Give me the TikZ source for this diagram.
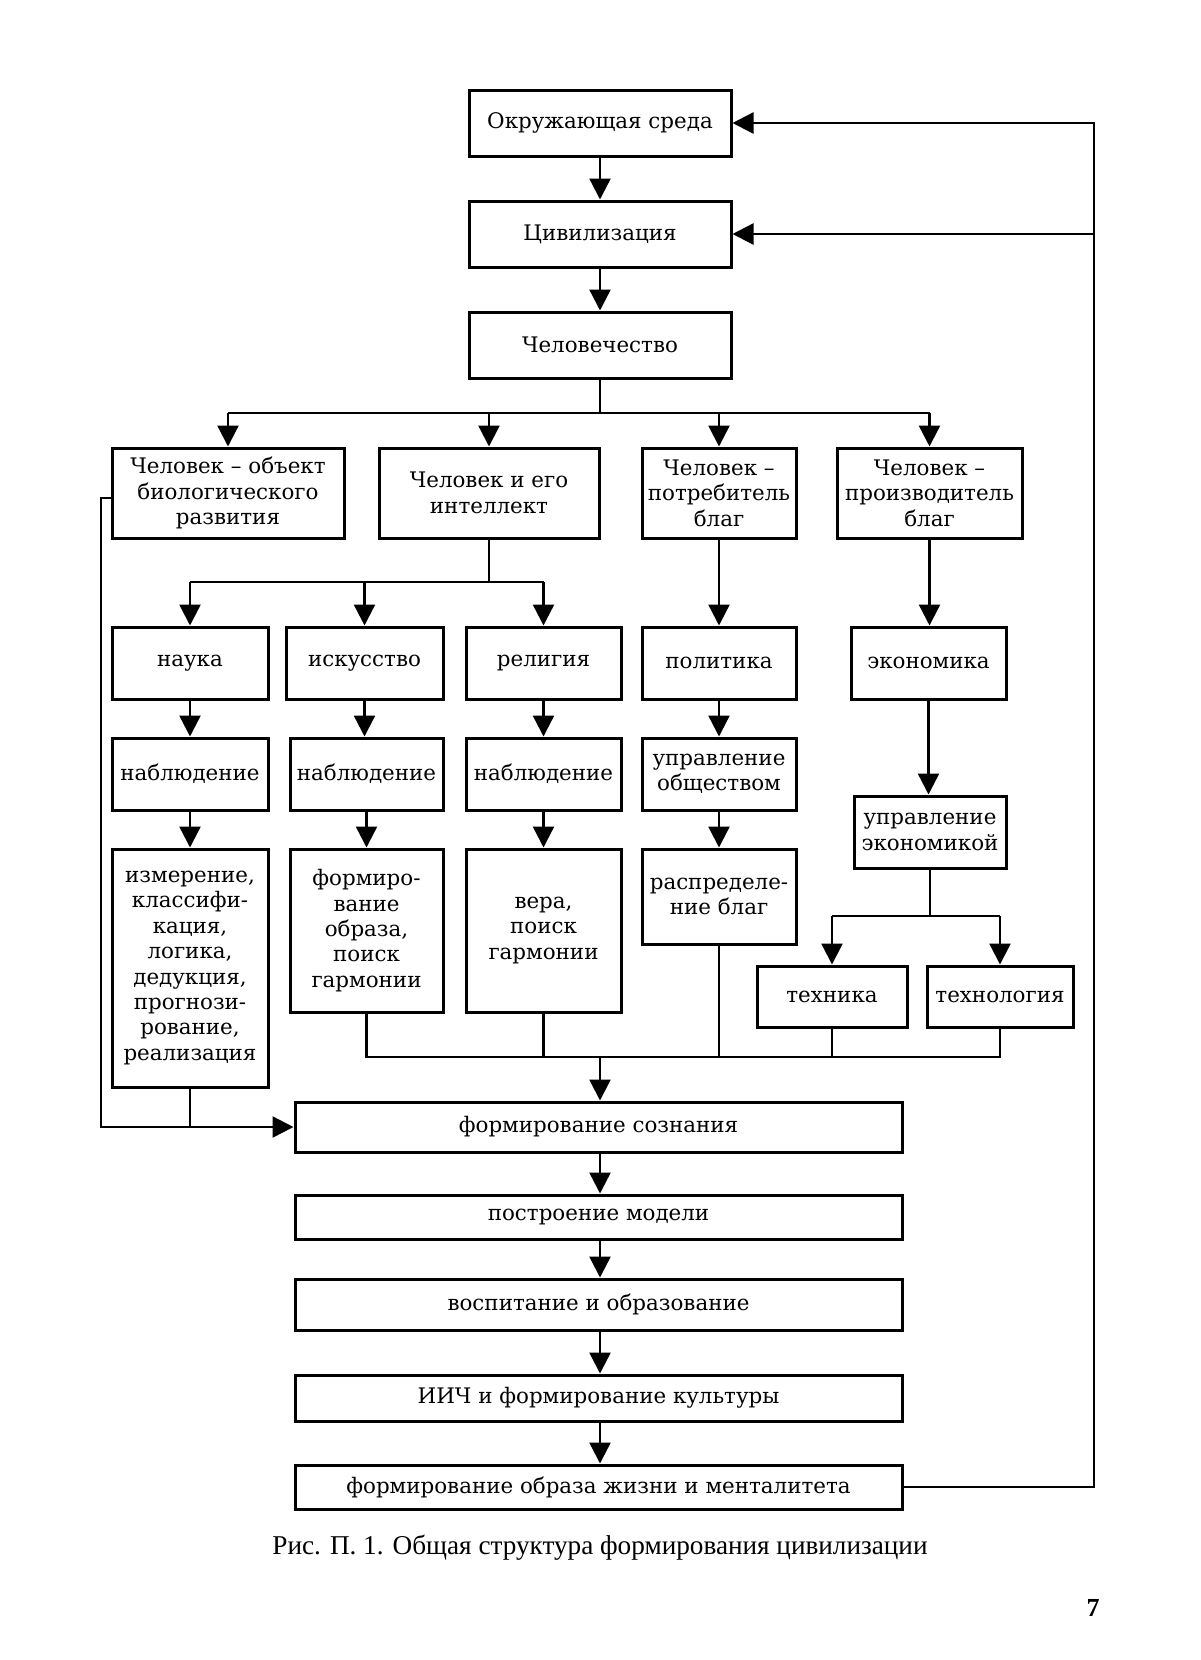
\documentclass[tikz,border=0pt]{standalone}
\usepackage{fontspec}
\setmainfont{DejaVu Serif}
\newfontfamily\capfont{Liberation Serif}
\usetikzlibrary{arrows.meta}
\begin{document}
\begin{tikzpicture}[x=0.5pt,y=-0.5pt,
  box/.style={draw, line width=1.5pt, align=center, inner sep=1pt, font=\fontsize{10.7}{12.7}\selectfont},
  conn/.style={line width=1.2pt},
  arr/.style={conn, -{Triangle[length=10.5pt,width=10.5pt]}},
]
\useasboundingbox (0,0) rectangle (1200,1660);
% top chain
\node[box, minimum width=131pt, minimum height=33pt] (env) at (600,123) {Окружающая среда};
\node[box, minimum width=131pt, minimum height=33pt] (civ) at (600,234) {Цивилизация};
\node[box, minimum width=131pt, minimum height=33pt] (hum) at (600,345) {Человечество};
% row 2
\node[box, minimum width=116pt, minimum height=45pt] (A) at (228,493) {Человек – объект\\биологического\\развития};
\node[box, minimum width=110pt, minimum height=45pt] (B) at (489,493) {Человек и его\\интеллект};
\node[box, minimum width=77pt, minimum height=45pt] (C) at (719,493) {Человек –\\потребитель\\благ};
\node[box, minimum width=92.5pt, minimum height=45pt] (D) at (929.5,493) {Человек –\\производитель\\благ};
% row 3
\node[box, minimum width=78pt, minimum height=36pt] (nauka) at (190,663) {наука};
\node[box, minimum width=78.5pt, minimum height=36pt] (isk) at (364.5,663) {искусство};
\node[box, minimum width=77.5pt, minimum height=36pt] (rel) at (543.5,663) {религия};
\node[box, minimum width=77pt, minimum height=36pt] (pol) at (719,663) {политика};
\node[box, minimum width=77.5pt, minimum height=36pt] (eco) at (928.5,663) {экономика};
% row 4
\node[box, minimum width=78pt, minimum height=36pt] (nab1) at (190,774) {наблюдение};
\node[box, minimum width=76.5pt, minimum height=36pt] (nab2) at (366.5,774) {наблюдение};
\node[box, minimum width=77.5pt, minimum height=36pt] (nab3) at (543.5,774) {наблюдение};
\node[box, minimum width=77pt, minimum height=36pt] (uprob) at (719,774) {управление\\обществом};
\node[box, minimum width=76pt, minimum height=36pt] (upreco) at (930,832) {управление\\экономикой};
% row 5
\node[box, minimum width=78pt, minimum height=119pt] (izm) at (190,968) {измерение,\\классифи-\\кация,\\логика,\\дедукция,\\прогнози-\\рование,\\реализация};
\node[box, minimum width=76.5pt, minimum height=81.5pt] (form) at (366.5,930.5) {формиро-\\вание\\образа,\\поиск\\гармонии};
\node[box, minimum width=77.5pt, minimum height=81.5pt] (vera) at (543.5,930.5) {вера,\\поиск\\гармонии};
\node[box, minimum width=77pt, minimum height=47.5pt] (raspr) at (719,896.5) {распределе-\\ние благ};
\node[box, minimum width=75pt, minimum height=30.5pt] (tech) at (832,996.5) {техника};
\node[box, minimum width=73pt, minimum height=30.5pt] (techn) at (1000,996.5) {технология};
% bottom chain
\node[box, minimum width=303.5pt, minimum height=25pt] (fs) at (598.5,1127) {формирование сознания};
\node[box, minimum width=303.5pt, minimum height=22pt] (pm) at (598.5,1217) {построение модели};
\node[box, minimum width=303.5pt, minimum height=25.5pt] (vo) at (598.5,1304.5) {воспитание и образование};
\node[box, minimum width=303.5pt, minimum height=23pt] (iich) at (598.5,1398) {ИИЧ и формирование культуры};
\node[box, minimum width=303.5pt, minimum height=22pt] (fozm) at (598.5,1487) {формирование образа жизни и менталитета};
% caption
\node[font=\capfont\fontsize{13.6}{15}\selectfont] (cap) at (600,1548) {Рис. П. 1. Общая структура формирования цивилизации};
\node[font=\capfont\bfseries\fontsize{13}{15}\selectfont] (pg) at (1093,1608) {7};
% coordinates
\coordinate (hb) at (600,413);
\coordinate (bb) at (489,582);
\coordinate (eb) at (930,916);
\coordinate (cl) at (600,1057);
\coordinate (lx) at (101,498);
\coordinate (rx) at (1094,123);
% top connectors
\draw[arr] (env.south) -- (civ.north);
\draw[arr] (civ.south) -- (hum.north);
\draw[conn] (hum.south) -- (hb);
\draw[conn] (A.north |- hb) -- (D.north |- hb);
\draw[arr] (A.north |- hb) -- (A.north);
\draw[arr] (B.north |- hb) -- (B.north);
\draw[arr] (C.north |- hb) -- (C.north);
\draw[arr] (D.north |- hb) -- (D.north);
% B branch
\draw[conn] (B.south) -- (bb);
\draw[conn] (nauka.north |- bb) -- (rel.north |- bb);
\draw[arr] (nauka.north |- bb) -- (nauka.north);
\draw[arr] (isk.north |- bb) -- (isk.north);
\draw[arr] (rel.north |- bb) -- (rel.north);
% columns
\draw[arr] (C.south) -- (pol.north);
\draw[arr] (D.south) -- (D.south |- eco.north);
\draw[arr] (nauka.south) -- (nab1.north);
\draw[arr] (isk.south) -- (isk.south |- nab2.north);
\draw[arr] (rel.south) -- (nab3.north);
\draw[arr] (nab1.south) -- (izm.north);
\draw[arr] (nab2.south) -- (form.north);
\draw[arr] (nab3.south) -- (vera.north);
\draw[arr] (pol.south) -- (uprob.north);
\draw[arr] (uprob.south) -- (raspr.north);
\draw[arr] (eco.south) -- (eco.south |- upreco.north);
% economy branch
\draw[conn] (upreco.south) -- (eb);
\draw[conn] (tech.north |- eb) -- (techn.north |- eb);
\draw[arr] (tech.north |- eb) -- (tech.north);
\draw[arr] (techn.north |- eb) -- (techn.north);
% collecting line
\draw[conn] (form.south) -- (form.south |- cl) -- (techn.south |- cl) -- (techn.south);
\draw[conn] (vera.south) -- (vera.south |- cl);
\draw[conn] (raspr.south) -- (raspr.south |- cl);
\draw[conn] (tech.south) -- (tech.south |- cl);
\draw[arr] (cl) -- (cl |- fs.north);
% bottom chain
\draw[arr] (fs.south -| cl) -- (pm.north -| cl);
\draw[arr] (pm.south -| cl) -- (vo.north -| cl);
\draw[arr] (vo.south -| cl) -- (iich.north -| cl);
\draw[arr] (iich.south -| cl) -- (fozm.north -| cl);
% left loop
\draw[arr] (A.west |- lx) -- (lx) -- (lx |- fs.west) -- (fs.west);
\draw[conn] (izm.south) -- (izm.south |- fs.west);
% right loop
\draw[arr] (fozm.east) -- (fozm.east -| rx) -- (rx |- env.east) -- (env.east);
\draw[arr] (rx |- civ.east) -- (civ.east);
\end{tikzpicture}
\end{document}
